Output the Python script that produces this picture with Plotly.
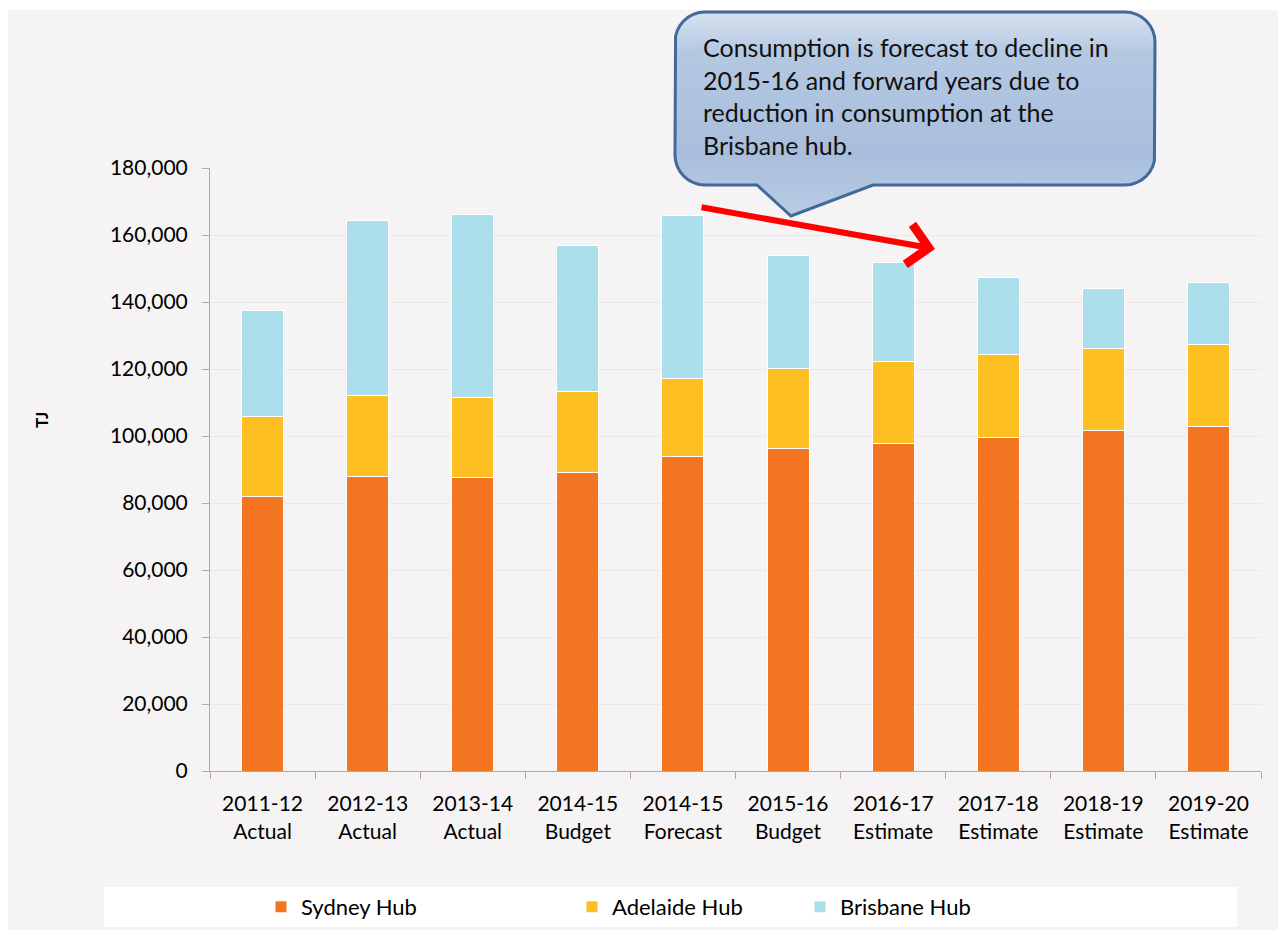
import math
import plotly.graph_objects as go

categories = ["2011-12<br>Actual", "2012-13<br>Actual", "2013-14<br>Actual", "2014-15<br>Budget",
              "2014-15<br>Forecast", "2015-16<br>Budget", "2016-17<br>Estimate", "2017-18<br>Estimate",
              "2018-19<br>Estimate", "2019-20<br>Estimate"]
sydney = [81800, 87800, 87500, 89000, 94000, 96400, 97900, 99700, 101500, 102700]
adelaide = [23900, 24400, 24100, 24400, 23300, 23900, 24200, 24500, 24500, 24500]
brisbane = [31900, 52000, 54400, 43600, 48400, 33700, 29800, 23000, 17900, 18500]
y_ticks = [0, 20000, 40000, 60000, 80000, 100000, 120000, 140000, 160000, 180000]
y_title = "TJ"
callout_text = ("Consumption is forecast to decline in<br>2015-16 and forward years due to<br>"
                "reduction in consumption at the<br>Brisbane hub.")

OFF = 8  # page body margin
W, H = 1286 - OFF, 935 - OFF
FONT = "Lato"
AXIS_COL = "#B3A99E"


def px(x):
    return (x - OFF) / W


def py(y):
    return 1 - (y - OFF) / H


fig = go.Figure()
series = [("Sydney Hub", sydney, "#F37521", "legend"),
          ("Adelaide Hub", adelaide, "#FEBF22", "legend2"),
          ("Brisbane Hub", brisbane, "#ABDFEC", "legend3")]
for name, vals, col, lg in series:
    fig.add_trace(go.Bar(x=categories, y=vals, name=name, marker_color=col,
                         marker_line_color="white", marker_line_width=1, legend=lg,
                         hoverinfo="y+name"))

# callout bubble outline in page-pixel coordinates (x2/y2 span the whole page)
L, R, T, B, r = 675, 1155, 12, 185, 30


def arc(cx, cy, a0, a1, n=8):
    pts = []
    for i in range(n + 1):
        a = math.radians(a0 + (a1 - a0) * i / n)
        pts.append((cx + r * math.cos(a), cy + r * math.sin(a)))
    return pts


path = []
path += arc(R - r, T + r, -90, 0)
path += arc(R - r, B - r, 0, 90)
path += [(873, B), (791, 216), (757, B)]
path += arc(L + r, B - r, 90, 180)
path += arc(L + r, T + r, 180, 270)
path.append(path[0])
fig.add_trace(go.Scatter(x=[p[0] for p in path], y=[p[1] for p in path], xaxis="x2", yaxis="y2",
                         mode="lines", fill="toself", line=dict(color="#41699A", width=3),
                         fillgradient=dict(type="vertical",
                                           colorscale=[[0, "#BACCE4"], [0.3, "#A8BEDC"],
                                                       [0.8, "#B4C8E2"], [1, "#D8E2F0"]]),
                         showlegend=False, hoverinfo="skip"))

legend_common = dict(yanchor="middle", xanchor="left", orientation="h",
                     bgcolor="rgba(0,0,0,0)", font=dict(size=22), itemwidth=30)

fig.update_layout(
    width=W, height=H,
    margin=dict(l=0, r=0, t=0, b=0),
    paper_bgcolor="white",
    plot_bgcolor="rgba(0,0,0,0)",
    barmode="stack",
    bargap=0.6,
    font=dict(family=FONT, size=21, color="#000000"),
    xaxis=dict(domain=[px(210), px(1261)], showline=True, linecolor=AXIS_COL, linewidth=1,
               ticks="outside", tickson="boundaries", ticklen=7, tickcolor=AXIS_COL,
               ticklabelstandoff=14,
               tickfont=dict(size=21), automargin=False, showgrid=False, fixedrange=True),
    yaxis=dict(domain=[py(771), py(168)], range=[0, 180000], tickvals=y_ticks,
               tickformat=",d", showline=True, linecolor=AXIS_COL, linewidth=1,
               ticks="outside", ticklen=7, tickcolor=AXIS_COL, gridcolor="#ECE8E5", gridwidth=1,
               ticklabelstandoff=10,
               tickfont=dict(size=21), automargin=False, zeroline=False),
    xaxis2=dict(domain=[0, 1], range=[OFF, OFF + W], visible=False, anchor="y2", fixedrange=True),
    yaxis2=dict(domain=[0, 1], range=[OFF + H, OFF], visible=False, anchor="x2", fixedrange=True),
    legend=dict(x=px(261), y=py(907), **legend_common),
    legend2=dict(x=px(572), y=py(907), **legend_common),
    legend3=dict(x=px(800), y=py(907), **legend_common),
    shapes=[
        dict(type="rect", xref="paper", yref="paper", x0=px(7), x1=px(1281), y0=py(930), y1=py(10),
             fillcolor="#F5F3F4", line_width=0, layer="below"),
        dict(type="rect", xref="paper", yref="paper", x0=px(104), x1=px(1237), y0=py(927), y1=py(887),
             fillcolor="#FFFFFF", line_width=0, layer="below"),
    ],
    annotations=[
        dict(text=f"<b>{y_title}</b>", xref="paper", yref="paper", x=px(41), y=py(420),
             xanchor="center", yanchor="middle", textangle=-90, showarrow=False,
             font=dict(size=17, color="#000000")),
        dict(text=callout_text, xref="paper", yref="paper", x=px(701), y=py(30), xanchor="left",
             yanchor="top", align="left", showarrow=False, font=dict(size=25, color="#111111")),
        dict(x=935, y=249, xref="x2", yref="y2", ax=700, ay=207, axref="x2", ayref="y2",
             text="", showarrow=True, arrowhead=4, arrowsize=1.3, arrowwidth=6, arrowcolor="#FF0000"),
    ],
)

fig.write_html("out.html")
